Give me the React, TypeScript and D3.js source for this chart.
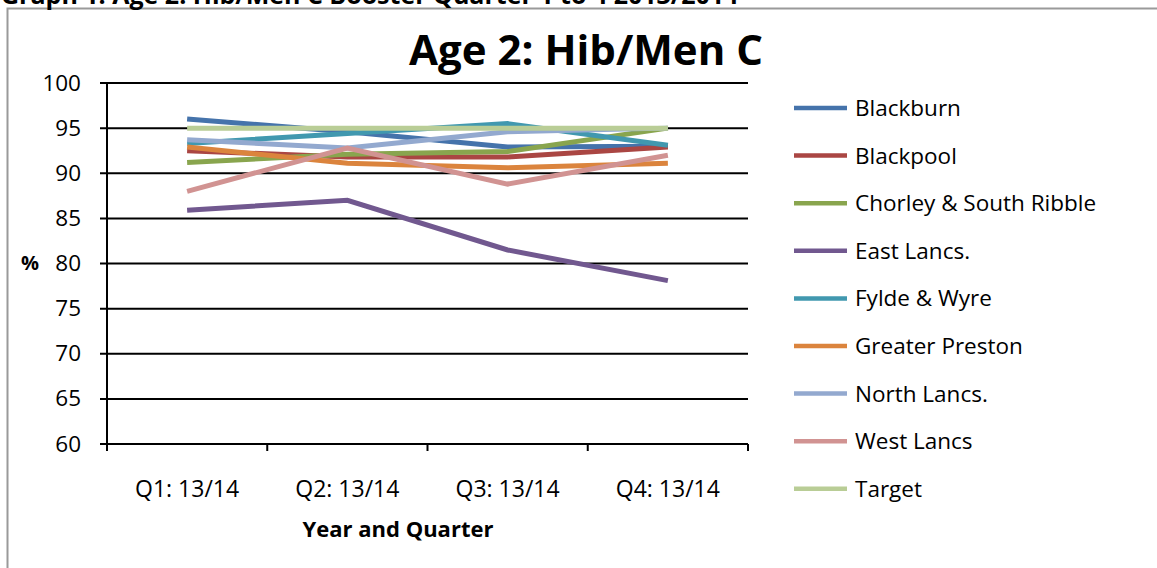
import React from 'react'
import * as d3 from 'd3'

// quarters on the x axis
const quarters = ['Q1: 13/14', 'Q2: 13/14', 'Q3: 13/14', 'Q4: 13/14']

// one array per locality (%)
const blackburn = [96.0, 94.6, 92.9, 93.0]
const blackpool = [92.5, 91.8, 91.8, 92.9]
const chorley = [91.2, 92.1, 92.4, 95.0]
const eastLancs = [85.9, 87.0, 81.5, 78.1]
const fyldeWyre = [93.3, 94.4, 95.5, 93.1]
const greaterPreston = [92.9, 91.1, 90.6, 91.1]
const northLancs = [93.7, 92.8, 94.6, 95.0]
const westLancs = [88.0, 92.8, 88.8, 92.0]
const target = [95, 95, 95, 95]

const yTicks = [60, 65, 70, 75, 80, 85, 90, 95, 100]

const series = [
  {name: 'Blackburn', values: blackburn, color: '#4573ab'},
  {name: 'Blackpool', values: blackpool, color: '#aa4643'},
  {name: 'Chorley & South Ribble', values: chorley, color: '#89a54e'},
  {name: 'East Lancs.', values: eastLancs, color: '#71588f'},
  {name: 'Fylde & Wyre', values: fyldeWyre, color: '#4198af'},
  {name: 'Greater Preston', values: greaterPreston, color: '#db843d'},
  {name: 'North Lancs.', values: northLancs, color: '#93a9cf'},
  {name: 'West Lancs', values: westLancs, color: '#d19392'},
  {name: 'Target', values: target, color: '#b9cd96'}
]

const FONT = '"Open Sans", Lato, sans-serif'

export default function App() {
  const width = 1157
  const height = 568

  const left = 107
  const right = 748
  const top = 83
  const bottom = 444

  const x = d3.scaleBand().domain(quarters).range([left, right])
  const y = d3.scaleLinear().domain([60, 100]).range([bottom, top])

  const line = d3
    .line<number>()
    .x((d, i) => x(quarters[i])! + x.bandwidth() / 2)
    .y(d => y(d))

  const legendX = 794
  const legendY = 108
  const legendStep = 47.6

  return (
    <div style={{position: 'absolute', left: 0, top: 0}}>
      <svg width={width} height={height} style={{display: 'block'}}>
        <rect x={0} y={0} width={width} height={height} fill="#fff" />
        {/* outer frame of the chart object */}
        <rect x={7.5} y={8.5} width={width + 20} height={height + 20} fill="none" stroke="#9a9a9a" strokeWidth={2} />
        {/* caption above the frame, cut off at the top like in the source */}
        <text x={1} y={4} fontFamily={FONT} fontWeight="bold" fontSize={25} fill="#000">
          Graph 1: Age 2: Hib/Men C Booster Quarter 1 to 4 2013/2014
        </text>

        <text x={586} y={65} textAnchor="middle" fontFamily={FONT} fontWeight="bold" fontSize={42} fill="#000">
          Age 2: Hib/Men C
        </text>

        {/* gridlines + y ticks */}
        {yTicks.map(t => (
          <g key={t}>
            <line x1={left - 7} x2={right} y1={y(t)} y2={y(t)} stroke="#000" strokeWidth={2} />
            <text x={81} y={y(t) + 7.5} textAnchor="end" fontFamily={FONT} fontSize={22.5} fill="#000">
              {t}
            </text>
          </g>
        ))}
        <line x1={left} x2={left} y1={top} y2={bottom + 7} stroke="#000" strokeWidth={2} />
        {/* x ticks at band edges */}
        {quarters.concat(['end']).map((q, i) => {
          const xx = i < quarters.length ? x(q)! : right
          return <line key={q} x1={xx} x2={xx} y1={bottom} y2={bottom + 7} stroke="#000" strokeWidth={2} />
        })}
        {quarters.map(q => (
          <text key={q} x={x(q)! + x.bandwidth() / 2} y={497} textAnchor="middle" fontFamily={FONT} fontSize={23} fill="#000">
            {q}
          </text>
        ))}
        <text x={398} y={537} textAnchor="middle" fontFamily={FONT} fontWeight="bold" fontSize={22} fill="#000">
          Year and Quarter
        </text>
        <text x={30} y={270} textAnchor="middle" fontFamily={FONT} fontWeight="bold" fontSize={20} fill="#000">
          %
        </text>

        {/* series lines */}
        {series.map(s => (
          <path key={s.name} d={line(s.values)!} fill="none" stroke={s.color} strokeWidth={5} />
        ))}

        {/* legend */}
        {series.map((s, i) => (
          <g key={s.name} transform={`translate(${legendX},${legendY + i * legendStep})`}>
            <line x1={0} x2={53} y1={0} y2={0} stroke={s.color} strokeWidth={4.5} />
            <text x={61} y={8} fontFamily={FONT} fontSize={22.5} fill="#000">
              {s.name}
            </text>
          </g>
        ))}
      </svg>
    </div>
  )
}
